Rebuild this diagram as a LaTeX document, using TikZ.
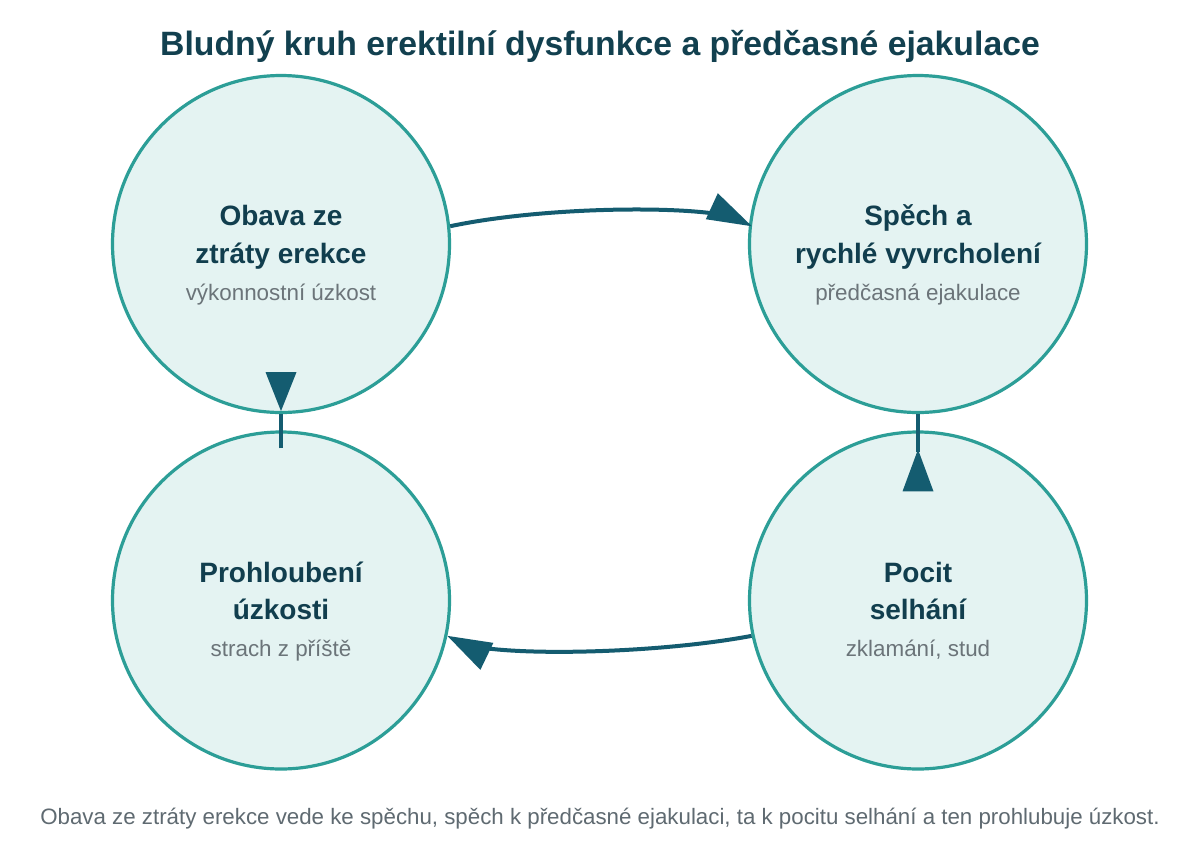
\documentclass[tikz,border=0pt]{standalone}
\usepackage{fontspec}
\setmainfont{Liberation Sans}
\usetikzlibrary{calc}
\definecolor{titlec}{HTML}{12404F}
\definecolor{headc}{HTML}{113E4E}
\definecolor{subc}{HTML}{6B7479}
\definecolor{footc}{HTML}{5F6A71}
\definecolor{ringc}{HTML}{2C9E97}
\definecolor{fillc}{HTML}{E4F3F2}
\definecolor{arrc}{HTML}{145C70}
\begin{document}
\begin{tikzpicture}[x=1pt,y=-1pt,
  circ/.style={circle,draw=ringc,fill=fillc,line width=3.2pt,minimum size=337pt,inner sep=0pt},
  head/.style={font=\fontsize{28}{34}\selectfont\bfseries,text=headc,anchor=base,inner sep=0pt},
  sub/.style={font=\fontsize{22.4}{27}\selectfont,text=subc,anchor=base,inner sep=0pt},
  conn/.style={draw=arrc,line width=4pt},
  tiphead/.style={fill=arrc}]
\useasboundingbox (0,0) rectangle (1200,863);
\fill[white] (0,0) rectangle (1200,863);

\node[anchor=base,inner sep=0pt,font=\fontsize{33.75}{40}\selectfont\bfseries,text=titlec] (title) at (600,55) {Bludný kruh erektilní dysfunkce a předčasné ejakulace};

\node[circ] (c1) at (281,244) {};
\node[circ] (c2) at (918,244) {};
\node[circ] (c3) at (281,600.5) {};
\node[circ] (c4) at (918,600.5) {};

\node[head] (h1a) at (281,225) {Obava ze};
\node[head] (h1b) at (281,263) {ztráty erekce};
\node[sub]  (s1)  at (281,300) {výkonnostní úzkost};

\node[head] (h2a) at (918,225) {Spěch a};
\node[head] (h2b) at (918,263) {rychlé vyvrcholení};
\node[sub]  (s2)  at (918,300) {předčasná ejakulace};

\node[head] (h3a) at (281,582) {Prohloubení};
\node[head] (h3b) at (281,619) {úzkosti};
\node[sub]  (s3)  at (281,656) {strach z příště};

\node[head] (h4a) at (918,582) {Pocit};
\node[head] (h4b) at (918,619) {selhání};
\node[sub]  (s4)  at (918,656) {zklamání, stud};

% c1 -> c2
\coordinate (tipA) at ([xshift=3pt]c2.174);
\draw[conn,shorten >=12pt] (c1.6) .. controls (550,205) and (714,205) .. (tipA);
\fill[tiphead] (tipA) -- ++(-34,-33) -- ++(-12,26) -- cycle;

% c2 -- c4
\draw[conn] (c2.south) -- ([yshift=-22pt]c4.north);
\fill[tiphead] ([yshift=-19pt]c4.north) -- ++(-15.5,42) -- ++(31,0) -- cycle;

% c4 -> c3
\draw[conn,shorten >=12pt] (c4.192) .. controls (650,655) and (487,657) .. (c3.348);
\fill[tiphead] (c3.348) -- ++(46,7) -- ++(-13,27) -- cycle;

% c3 -- c1
\draw[conn] ([yshift=-18pt]c3.north) -- (c1.south);
\fill[tiphead] ([yshift=3pt]c1.south) -- ++(-15.5,-39) -- ++(31,0) -- cycle;

\node[anchor=base,inner sep=0pt,font=\fontsize{22.3}{27}\selectfont,text=footc] (foot) at (600,824) {Obava ze ztráty erekce vede ke spěchu, spěch k předčasné ejakulaci, ta k pocitu selhání a ten prohlubuje úzkost.};
\end{tikzpicture}
\end{document}
